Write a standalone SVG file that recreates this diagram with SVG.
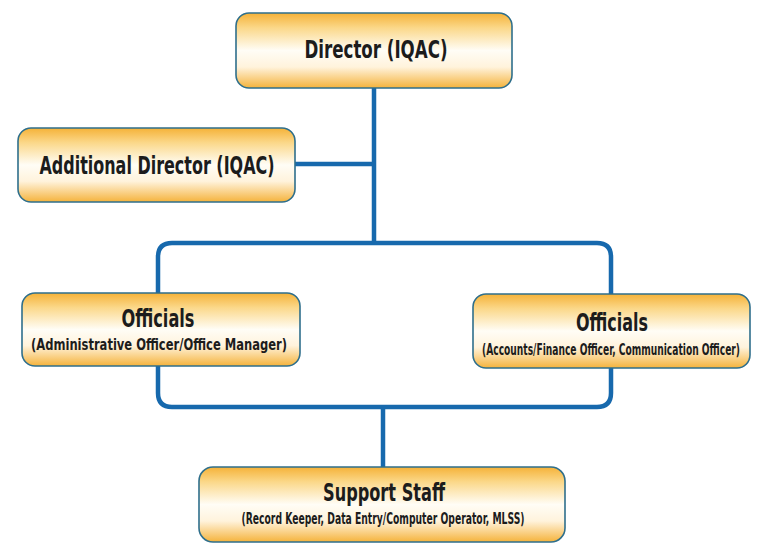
<svg xmlns="http://www.w3.org/2000/svg" width="768" height="556" viewBox="0 0 768 556">
<defs>
<linearGradient id="g" x1="0" y1="0" x2="0" y2="1">
<stop offset="0" stop-color="#f5b238"/>
<stop offset="0.2" stop-color="#fbd88a"/>
<stop offset="0.5" stop-color="#fffdf6"/>
<stop offset="0.72" stop-color="#fff3dc"/>
<stop offset="1" stop-color="#f5b33c"/>
</linearGradient>
</defs>
<style>
.box{fill:url(#g);stroke:#2f6f8c;stroke-width:1.6}
.t{font-family:"DejaVu Sans Condensed","Liberation Sans Narrow","Roboto Condensed","Liberation Sans",sans-serif;font-weight:bold;fill:#1c1c1c;text-anchor:middle}
.big{font-size:24px}
.sm{font-size:15px}
.c{fill:none;stroke:#1769ad;stroke-width:4.5;stroke-linecap:butt}
</style>
<rect width="768" height="556" fill="#ffffff"/>
<g id="connectors">
<path class="c" d="M374,88 V243"/>
<path class="c" d="M295,164 H374"/>
<path class="c" d="M172,243 H597 Q611,243 611,257 V393 Q611,407 597,407 H172 Q158,407 158,393 V257 Q158,243 172,243 Z"/>
<path class="c" d="M383,407 V467"/>
</g>
<g id="director">
<rect class="box" x="236" y="13" width="276" height="75" rx="13"/>
<text class="t big" x="376" y="58" textLength="143" lengthAdjust="spacingAndGlyphs">Director (IQAC)</text>
</g>
<g id="additional-director">
<rect class="box" x="18" y="128" width="277" height="74" rx="13"/>
<text class="t big" x="157" y="174" textLength="235" lengthAdjust="spacingAndGlyphs">Additional Director (IQAC)</text>
</g>
<g id="officials-left">
<rect class="box" x="22" y="293" width="278" height="73" rx="13"/>
<text class="t big" x="158" y="327" textLength="73" lengthAdjust="spacingAndGlyphs">Officials</text>
<text class="t sm" x="159" y="350" textLength="256" lengthAdjust="spacingAndGlyphs">(Administrative Officer/Office Manager)</text>
</g>
<g id="officials-right">
<rect class="box" x="473" y="294" width="277" height="74" rx="13"/>
<text class="t big" x="612" y="331" textLength="72" lengthAdjust="spacingAndGlyphs">Officials</text>
<text class="t sm" x="611" y="355" textLength="258" lengthAdjust="spacingAndGlyphs">(Accounts/Finance Officer, Communication Officer)</text>
</g>
<g id="support-staff">
<rect class="box" x="199" y="467" width="366" height="75" rx="14"/>
<text class="t big" x="384" y="501" textLength="122" lengthAdjust="spacingAndGlyphs">Support Staff</text>
<text class="t sm" x="383" y="524" textLength="283" lengthAdjust="spacingAndGlyphs">(Record Keeper, Data Entry/Computer Operator, MLSS)</text>
</g>
</svg>
